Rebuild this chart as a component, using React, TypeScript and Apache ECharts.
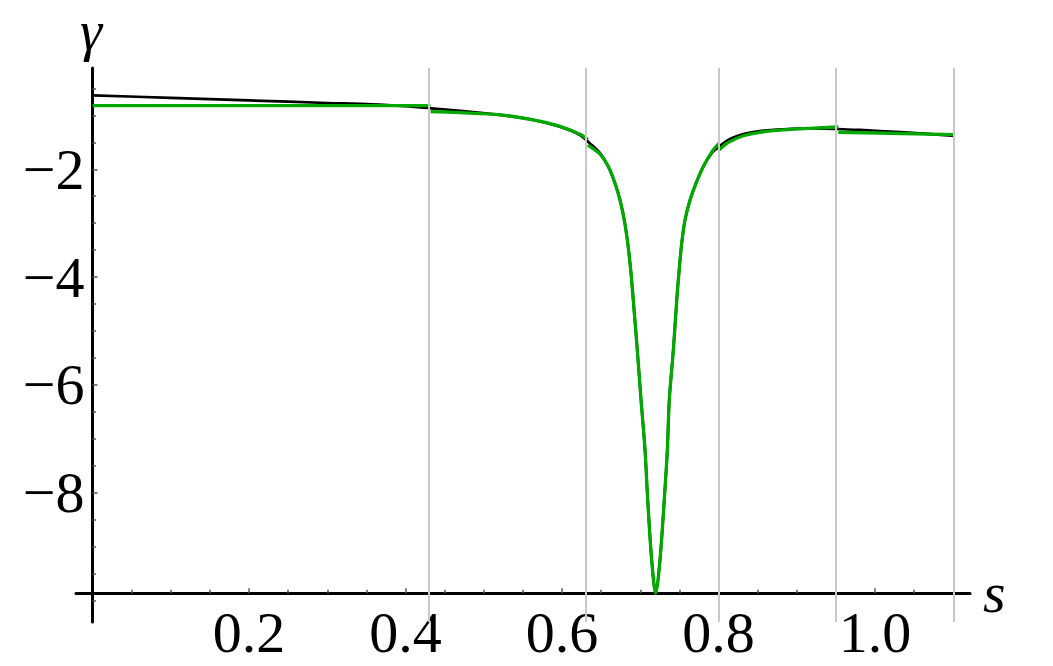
import React, { useEffect, useRef } from "react";
import * as echarts from "echarts";

// Black curve (s, gamma)
const blackS = [
  0, 0.1, 0.2, 0.3, 0.356, 0.4, 0.433, 0.47, 0.521, 0.5633, 0.5974, 0.623,
  0.6358, 0.6486, 0.6592, 0.6677, 0.6741, 0.6796, 0.684, 0.6878, 0.6911, 0.6962,
  0.701, 0.7061, 0.7095, 0.7146, 0.7197, 0.7252, 0.7307, 0.7346, 0.7371, 0.7423,
  0.7466, 0.7497, 0.753, 0.7572, 0.7636, 0.7712, 0.7806, 0.7913, 0.8006, 0.8105,
  0.8189, 0.8317, 0.853, 0.8828, 0.9169, 0.9531, 0.981, 1.032, 1.102,
];
const blackGamma = [
  -0.627, -0.675, -0.722, -0.77, -0.795, -0.83, -0.868, -0.915, -0.99, -1.085, -1.21, -1.364,
  -1.52, -1.7, -1.95, -2.26, -2.57, -2.94, -3.37, -3.87, -4.43, -5.35,
  -6.28, -7.21, -8.13, -9.25, -9.87, -9.25, -8.13, -7.21, -6.28, -5.35,
  -4.43, -3.87, -3.37, -2.94, -2.57, -2.26, -1.95, -1.7, -1.58, -1.475,
  -1.41, -1.345, -1.29, -1.258, -1.24, -1.252, -1.27, -1.31, -1.38,
];

// Green piecewise segments
const green1S = [0, 0.432];
const green1Gamma = [-0.82, -0.82];
const green2S = [0.432, 0.47, 0.521, 0.5633, 0.5974, 0.623, 0.633];
const green2Gamma = [-0.93, -0.95, -0.99, -1.085, -1.205, -1.35, -1.443];
const green3S = [
  0.633, 0.6486, 0.6592, 0.6677, 0.6741, 0.6796, 0.684, 0.6878, 0.6911, 0.6962,
  0.701, 0.7061, 0.7095, 0.7146, 0.7197, 0.7252, 0.7307, 0.7346, 0.7371, 0.7423,
  0.7466, 0.7497, 0.753, 0.7572, 0.7636, 0.7712, 0.7806, 0.7913, 0.8006,
];
const green3Gamma = [
  -1.55, -1.72, -1.95, -2.26, -2.57, -2.94, -3.37, -3.87, -4.43, -5.35,
  -6.28, -7.21, -8.13, -9.25, -9.87, -9.25, -8.13, -7.21, -6.28, -5.35,
  -4.43, -3.87, -3.37, -2.94, -2.57, -2.26, -1.95, -1.68, -1.52,
];
const green4S = [0.8006, 0.8105, 0.8189, 0.8317, 0.853, 0.8828, 0.9169, 0.9531];
const green4Gamma = [-1.642, -1.518, -1.456, -1.377, -1.313, -1.27, -1.24, -1.215];
const green5S = [0.9531, 1.102];
const green5Gamma = [-1.313, -1.355];

// Vertical grid lines
const gridLineS = [0.432, 0.633, 0.8006, 0.9531, 1.102];

// Ticks
const xTicks = [0.2, 0.4, 0.6, 0.8, 1.0];
const xMinorTicks = [0.05, 0.1, 0.15, 0.25, 0.3, 0.35, 0.45, 0.5, 0.55, 0.65, 0.7, 0.75, 0.85, 0.9, 0.95, 1.05, 1.1];
const yTicks = [-8, -6, -4, -2];
const yMinorTicks = [-10, -9.5, -9, -8.5, -7.5, -7, -6.5, -5.5, -5, -4.5, -3.5, -3, -2.5, -1.5, -1, -0.5];

const X_MIN = -0.0211;
const X_MAX = 1.1214;
const Y_MIN = -10.399;
const Y_MAX = -0.1206;

const pairs = (xs: number[], ys: number[]) => xs.map((x, i) => [x, ys[i]]);

const SERIF = "Liberation Serif";
const GREEN = "#00a800";

export default function App() {
  const ref = useRef<HTMLDivElement>(null);
  useEffect(() => {
    if (!ref.current) return;
    const chart = echarts.init(ref.current, undefined, { renderer: "svg" });
    const tickStyle = { color: "#555", width: 1.5 };
    const greenSeries = [
      pairs(green1S, green1Gamma),
      pairs(green2S, green2Gamma),
      pairs(green3S, green3Gamma),
      pairs(green4S, green4Gamma),
      pairs(green5S, green5Gamma),
    ].map((d) => ({
      type: "line",
      data: d,
      showSymbol: false,
      symbol: "none",
      smooth: 0.3,
      z: 4,
      lineStyle: { color: GREEN, width: 3.3 },
    }));
    chart.setOption({
      animation: false,
      grid: { left: 76, right: 83, top: 68, bottom: 44, containLabel: false },
      xAxis: [
        {
          type: "value",
          min: X_MIN,
          max: X_MAX,
          position: "bottom",
          offset: -28.7,
          z: 2,
          axisLine: { show: true, onZero: false, lineStyle: { color: "#000", width: 3 } },
          axisTick: { show: true, inside: true, length: 5, customValues: xTicks, lineStyle: tickStyle },
          axisLabel: {
            show: true,
            customValues: xTicks,
            margin: 10,
            fontFamily: SERIF,
            fontSize: 58,
            color: "#000",
            formatter: (v: number) => v.toFixed(1),
          },
          splitLine: { show: false },
        },
        {
          type: "value",
          min: X_MIN,
          max: X_MAX,
          position: "bottom",
          offset: -28.7,
          z: 2,
          axisLine: { show: false, onZero: false },
          axisTick: { show: true, inside: true, length: 3.5, customValues: xMinorTicks, lineStyle: tickStyle },
          axisLabel: { show: false },
          splitLine: { show: false },
        },
      ],
      yAxis: [
        {
          type: "value",
          min: Y_MIN,
          max: Y_MAX,
          position: "left",
          offset: -16.5,
          z: 2,
          axisLine: { show: true, onZero: false, lineStyle: { color: "#000", width: 3 } },
          axisTick: { show: true, inside: true, length: 5, customValues: yTicks, lineStyle: tickStyle },
          axisLabel: {
            show: true,
            customValues: yTicks,
            margin: 8,
            fontFamily: SERIF,
            fontSize: 58,
            color: "#000",
            formatter: (v: number) => "\u2212" + Math.abs(v),
          },
          splitLine: { show: false },
        },
        {
          type: "value",
          min: Y_MIN,
          max: Y_MAX,
          position: "left",
          offset: -16.5,
          z: 2,
          axisLine: { show: false, onZero: false },
          axisTick: { show: true, inside: true, length: 3.5, customValues: yMinorTicks, lineStyle: tickStyle },
          axisLabel: { show: false },
          splitLine: { show: false },
        },
      ],
      graphic: [
        {
          type: "text",
          x: 91,
          y: 31,
          style: {
            text: "\u03b3",
            font: 'italic 56px "Liberation Serif"',
            fill: "#000",
            align: "center",
            verticalAlign: "middle",
          },
        },
        {
          type: "text",
          x: 983,
          y: 592,
          style: {
            text: "s",
            font: 'italic 58px "Liberation Serif"',
            fill: "#000",
            align: "left",
            verticalAlign: "middle",
          },
        },
      ],
      series: [
        {
          type: "line",
          data: [],
          z: 1,
          silent: true,
          markLine: {
            silent: true,
            symbol: "none",
            label: { show: false },
            lineStyle: { color: "#c8c8c8", width: 2, type: "solid" },
            data: gridLineS.map((x) => ({ xAxis: x })),
          },
        },
        {
          type: "line",
          data: pairs(blackS, blackGamma),
          showSymbol: false,
          symbol: "none",
          smooth: 0.3,
          z: 3,
          lineStyle: { color: "#000", width: 2.7 },
        },
        ...greenSeries,
      ],
    });
    return () => chart.dispose();
  }, []);
  return (
    <div
      ref={ref}
      style={{ position: "fixed", left: 0, top: 0, width: 1053, height: 666, background: "#fff" }}
    />
  );
}
